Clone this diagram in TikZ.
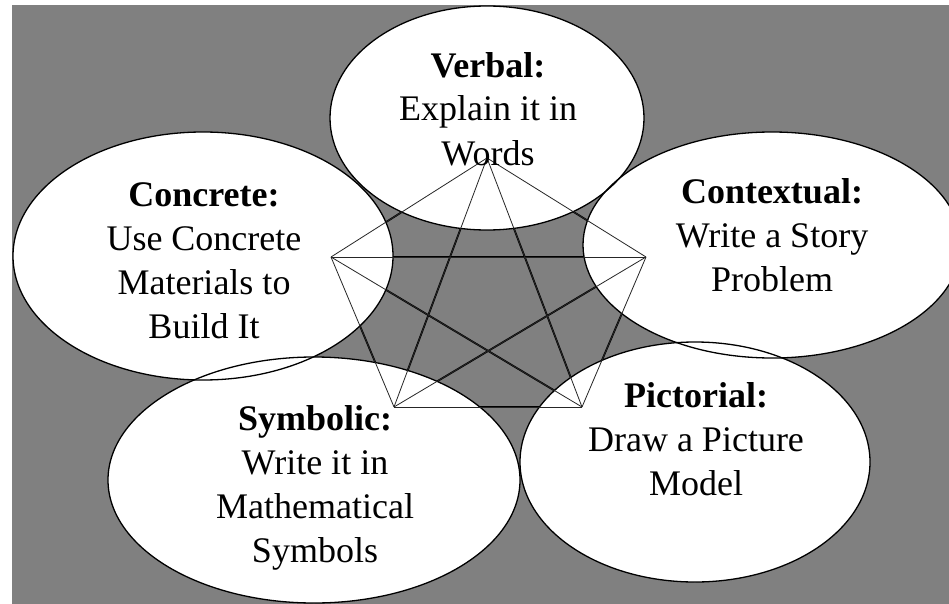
\documentclass[tikz,border=0pt]{standalone}
\usepackage{fontspec}
\setmainfont{Liberation Serif}
\usetikzlibrary{shapes.geometric}
\definecolor{bggray}{HTML}{808080}
\begin{document}
\begin{tikzpicture}[x=1pt,y=-1pt,
  oval/.style={ellipse, inner sep=0pt, outer sep=0pt, fill=white},
  rim/.style={draw=black, line width=1.3pt},
  heavy/.style={draw=black, line width=1.8pt},
  light/.style={draw=black!85, line width=0.8pt},
  lbl/.style={align=center, inner sep=0pt, anchor=base,
    font=\fontsize{36}{44}\selectfont}]
\useasboundingbox (0,0) rectangle (949,604);
\clip (0,0) rectangle (949,604);
\fill[bggray] (12,5) rectangle (949,604);

% pentagon vertices
\coordinate (T)  at (487,158);
\coordinate (L)  at (331,257);
\coordinate (R)  at (646,257);
\coordinate (BL) at (394,407);
\coordinate (BR) at (582,407);

% heavy pass (visible in the gray area)
\foreach \a/\b in {T/L,T/R,T/BL,T/BR,L/R,L/BL,L/BR,R/BL,R/BR,BL/BR}
  \draw[heavy] (\a) -- (\b);

% ellipses
\node[oval, minimum width=314pt, minimum height=224pt] (verbal) at (487,118) {};
\node[oval, minimum width=380pt, minimum height=248pt] (concrete) at (203,256) {};
\node[oval, minimum width=378pt, minimum height=226pt] (contextual) at (772,245) {};
\node[oval, minimum width=412pt, minimum height=246pt] (symbolic) at (314,480) {};
\node[oval, minimum width=350pt, minimum height=240pt] (pictorial) at (695,462) {};

\draw[rim] (verbal.center) ellipse [x radius=157pt, y radius=112pt];
\draw[rim] (concrete.center) ellipse [x radius=190pt, y radius=124pt];
\draw[rim] (contextual.center) ellipse [x radius=189pt, y radius=113pt];
\draw[rim] (symbolic.center) ellipse [x radius=206pt, y radius=123pt];
\draw[rim] (pictorial.center) ellipse [x radius=175pt, y radius=120pt];

% light pass (visible over the ellipses)
\foreach \a/\b in {T/L,T/R,T/BL,T/BR,L/R,L/BL,L/BR,R/BL,R/BR,BL/BR}
  \draw[light] (\a) -- (\b);

% texts (anchor = baseline of the last line)
\node[lbl] (tverbal) at (488,165) {\textbf{Verbal:}\\Explain it in\\Words};
\node[lbl] (tconcrete) at (204,338) {\textbf{Concrete:}\\Use Concrete\\Materials to\\Build It};
\node[lbl] (tcontextual) at (772,291) {\textbf{Contextual:}\\Write a Story\\Problem};
\node[lbl] (tsymbolic) at (315,562) {\textbf{Symbolic:}\\Write it in\\Mathematical\\Symbols};
\node[lbl] (tpictorial) at (696,495) {\textbf{Pictorial:}\\Draw a Picture\\Model};
\end{tikzpicture}
\end{document}
